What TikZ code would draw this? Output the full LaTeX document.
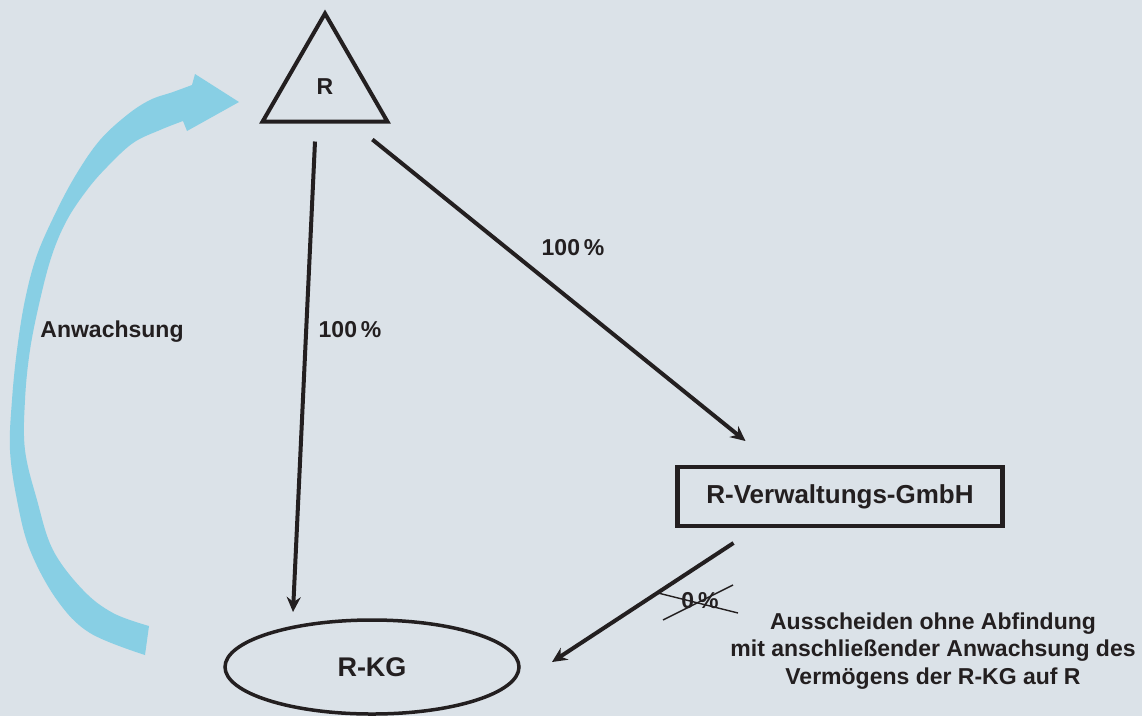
\documentclass[tikz,border=0pt]{standalone}
\usepackage{fontspec}
\setmainfont{Liberation Sans}
\usetikzlibrary{shapes.geometric,arrows.meta}
\definecolor{bgc}{HTML}{DBE2E8}
\definecolor{flow}{HTML}{88CFE4}
\definecolor{ink}{HTML}{231F20}
\tikzset{
  lbl/.style={font=\bfseries\fontsize{23}{27}\selectfont, text=ink, inner sep=0pt},
  big/.style={font=\bfseries\fontsize{26}{30}\selectfont, text=ink},
  arr/.style={draw=ink, line width=4pt, -{Stealth[length=15pt,width=14pt,inset=5pt]}},
  strike/.style={draw=ink, line width=1.4pt}
}
\begin{document}
\begin{tikzpicture}[x=1pt,y=-1pt]
\useasboundingbox (0,0) rectangle (1142,716);
\fill[bgc] (0,0) rectangle (1142,716);

% blue Anwachsung arrow
\fill[flow] plot[smooth, tension=0.6] coordinates {(145,655) (90,633) (57,600) (30,550) (17,500) (10,450) (12,400) (17,350) (25,300) (37,255) (57,210) (77,173) (100,140) (127,115) (150,100) (173,92) (192,85)}
  -- (195,74) -- (239,102) -- (187,131)
  -- plot[smooth, tension=0.6] coordinates {(183,121) (160,130) (133,143) (107,167) (87,190) (67,220) (52,255) (40,300) (30,350) (25,400) (25,450) (37,500) (53,550) (83,590) (113,613) (149,626)}
  -- cycle;

% nodes
\node[regular polygon, regular polygon sides=3, draw=ink, line width=4pt, minimum size=144pt, inner sep=0pt, outer sep=0pt] (R) at (325,85.5) {};
\node[lbl] (Rt) at (325,87) {R};
\node[draw=ink, line width=4.5pt, minimum width=325pt, minimum height=59pt, inner sep=0pt, outer sep=0pt, big] (V) at (840,496.5) {R-Verwaltungs-GmbH};
\node[ellipse, draw=ink, line width=3.5pt, minimum width=294pt, minimum height=94pt, inner sep=0pt, outer sep=0pt, font=\bfseries\fontsize{27}{30}\selectfont, text=ink] (KG) at (372,667) {R-KG};

% connectors
\draw[arr] ([xshift=-10pt,yshift=-20pt]R.south) -- ([xshift=-79pt,yshift=8pt]KG.north);
\draw[arr] ([xshift=-15pt,yshift=-18pt]R.corner 3) -- ([xshift=68pt,yshift=26pt]V.north west);
\draw[arr] ([xshift=56pt,yshift=-17pt]V.south west) -- ([xshift=33pt,yshift=5pt]KG.east);

% labels
\node[lbl] (p1) at (350,330) {100\,\%};
\node[lbl] (p2) at (573,248) {100\,\%};
\node[lbl] (anw) at (112,332) {Anwachsung};
\node[lbl] (p0) at (700,601) {0\,\%};
\coordinate (s1a) at (658,593);
\coordinate (s1b) at (738,613);
\coordinate (s2a) at (663,620);
\coordinate (s2b) at (733,585);
\draw[strike] (s1a) -- (s1b);
\draw[strike] (s2a) -- (s2b);
\node[lbl, align=center, font=\bfseries\fontsize{23}{27.5}\selectfont] (desc) at (933,651) {Ausscheiden ohne Abfindung\\mit anschließender Anwachsung des\\Vermögens der R-KG auf R};
\end{tikzpicture}
\end{document}
